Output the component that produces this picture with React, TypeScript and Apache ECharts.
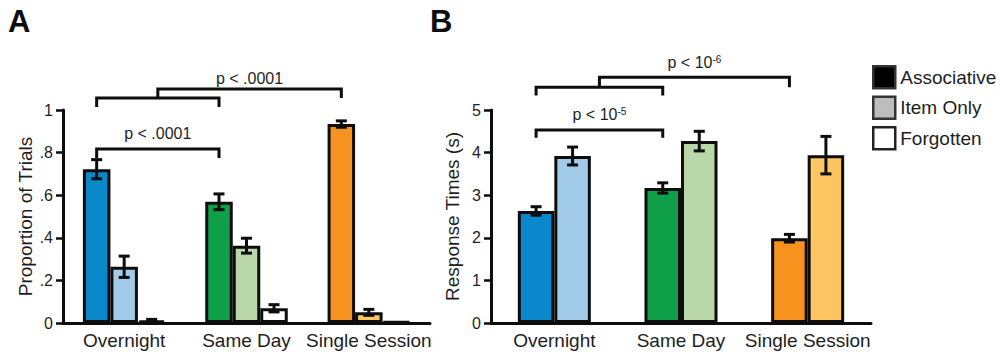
import React, { useEffect, useRef } from 'react';
import * as echarts from 'echarts';

const categories = ['Overnight', 'Same Day', 'Single Session'];
const legendNames = ['Associative', 'Item Only', 'Forgotten'];

// Panel A: proportion of trials (mean, SEM)
const propAssociative = [0.722, 0.569, 0.934];
const propAssociativeErr = [0.045, 0.037, 0.015];
const propItemOnly = [0.264, 0.363, 0.05];
const propItemOnlyErr = [0.05, 0.035, 0.014];
const propForgotten = [0.012, 0.069, 0.006];
const propForgottenErr = [0.005, 0.017, 0];
const propTickLabels = ['0', '.2', '.4', '.6', '.8', '1'];

// Panel B: response times in seconds (mean, SEM)
const rtAssociative = [2.63, 3.17, 1.99];
const rtAssociativeErr = [0.1, 0.12, 0.09];
const rtItemOnly = [3.92, 4.27, 3.94];
const rtItemOnlyErr = [0.21, 0.23, 0.44];
const rtTickLabels = ['0', '1', '2', '3', '4', '5'];

// Significance annotations: lower bracket [tip, bar, label], upper [tip, bar, top, label]
const sigLabelsA = [['p < .0001', ''], ['p < .0001', '']];
const sigLowA = [0.775, 0.817, 0.888];
const sigHighA = [1.014, 1.056, 1.099, 1.146];
const sigLabelsB = [['p < 10', '-5'], ['p < 10', '-6']];
const sigLowB = [4.35, 4.53, 4.9];
const sigHighB = [5.34, 5.535, 5.77, 6.11];

const assocColors = ['#0a88cc', '#0e9f48', '#f6921e'];
const itemColors = ['#a1cbe9', '#b9d7a8', '#fec563'];
const forgottenColor = '#ffffff';

const FONT = '"Liberation Sans", Arial, Helvetica, sans-serif';
const INK = '#0d0d0d';
const TXT = '#1e1e1e';
const BW_A = 27.5;
const BW_B = 36.5;
const STROKE = 3;

function errSeries(grid: number, barIdx: number, n: number, bw: number, means: number[], errs: number[]) {
  return {
    type: 'custom',
    xAxisIndex: grid,
    yAxisIndex: grid,
    z: 10,
    silent: true,
    clip: false,
    data: means.map((m, i) => [i, m, errs[i]]),
    encode: { x: 0, y: 1 },
    renderItem: (params: any, api: any) => {
      const c = api.value(0);
      const m = api.value(1);
      const e = api.value(2);
      if (!e) return null;
      const off = (barIdx - (n - 1) / 2) * bw;
      const top = api.coord([c, m + e]);
      const bot = api.coord([c, m - e]);
      const x = top[0] + off;
      const cap = 5.5;
      const st = { stroke: INK, lineWidth: STROKE, fill: 'none' };
      return {
        type: 'group',
        children: [
          { type: 'line', shape: { x1: x, y1: top[1], x2: x, y2: bot[1] }, style: st },
          { type: 'line', shape: { x1: x - cap, y1: top[1], x2: x + cap, y2: top[1] }, style: st },
          { type: 'line', shape: { x1: x - cap, y1: bot[1], x2: x + cap, y2: bot[1] }, style: st },
        ],
      };
    },
  };
}

function sigText(x: number, y: number, parts: string[]) {
  return {
    type: 'text',
    style: {
      x,
      y,
      text: parts[1] ? `${parts[0]}{sup|${parts[1]}}` : parts[0],
      fill: TXT,
      font: `16px ${FONT}`,
      textAlign: 'center',
      textVerticalAlign: 'middle',
      align: 'center',
      verticalAlign: 'middle',
      rich: { sup: { fontSize: 10, fontFamily: FONT, verticalAlign: 'top', fill: TXT } },
    },
  };
}

function sigSeries(grid: number, n: number, bw: number, labels: string[][], low: number[], high: number[]) {
  return {
    type: 'custom',
    xAxisIndex: grid,
    yAxisIndex: grid,
    z: 11,
    silent: true,
    clip: false,
    data: [[0, 0]],
    encode: { x: 0, y: 1 },
    renderItem: (params: any, api: any) => {
      const off = -((n - 1) / 2) * bw;
      const P = (c: number, v: number) => {
        const p = api.coord([c, v]);
        return [p[0] + off, p[1]];
      };
      const ls = { stroke: INK, lineWidth: STROKE, fill: 'none', lineJoin: 'miter', lineCap: 'butt' };
      const lowL = P(0, low[1]);
      const lowR = P(1, low[1]);
      const lowTip = P(0, low[0])[1];
      const hiL = P(0, high[1]);
      const hiR = P(1, high[1]);
      const hiTip = P(0, high[0])[1];
      const midX = (hiL[0] + hiR[0]) / 2;
      const topY = P(0, high[2])[1];
      const farX = P(2, high[2])[0];
      const lowMid = (lowL[0] + lowR[0]) / 2;
      return {
        type: 'group',
        children: [
          { type: 'polyline', shape: { points: [[lowL[0], lowTip], lowL, lowR, [lowR[0], lowTip]] }, style: ls },
          { type: 'polyline', shape: { points: [[hiL[0], hiTip], hiL, hiR, [hiR[0], hiTip]] }, style: ls },
          { type: 'polyline', shape: { points: [[midX, hiL[1]], [midX, topY], [farX, topY], [farX, hiL[1]]] }, style: ls },
          sigText(lowMid, P(0, low[2])[1], labels[0]),
          sigText((midX + farX) / 2, P(0, high[3])[1], labels[1]),
        ],
      };
    },
  };
}

function barSeries(grid: number, name: string, bw: number, values: number[], colors: string[]) {
  return {
    type: 'bar',
    name,
    xAxisIndex: grid,
    yAxisIndex: grid,
    barWidth: bw,
    barGap: '0%',
    data: values.map((v, i) => ({ value: v, itemStyle: { color: colors[i] } })),
    itemStyle: { borderColor: INK, borderWidth: STROKE },
  };
}

function xAxis(grid: number) {
  return {
    gridIndex: grid,
    type: 'category',
    data: categories,
    axisLine: { show: true, lineStyle: { color: INK, width: 3 } },
    axisTick: { show: false },
    axisLabel: { fontSize: 19, color: TXT, fontFamily: FONT, margin: 8, interval: 0 },
    splitLine: { show: false },
  };
}

function yAxis(grid: number, name: string, max: number, interval: number, labels: string[], nameGap: number) {
  return {
    gridIndex: grid,
    type: 'value',
    min: 0,
    max,
    interval,
    name,
    nameLocation: 'middle',
    nameGap,
    nameTextStyle: { fontSize: 19, color: TXT, fontFamily: FONT },
    axisLine: { show: true, lineStyle: { color: INK, width: 3 } },
    axisTick: { show: true, length: 7, lineStyle: { color: INK, width: 2.5 } },
    axisLabel: {
      fontSize: 16,
      color: TXT,
      fontFamily: FONT,
      margin: 10,
      formatter: (v: number) => labels[Math.round(v / interval)] ?? '',
    },
    splitLine: { show: false },
  };
}

export default function App() {
  const ref = useRef<HTMLDivElement>(null);
  useEffect(() => {
    if (!ref.current) return;
    const chart = echarts.init(ref.current, null, { renderer: 'svg' });
    const option: any = {
      animation: false,
      backgroundColor: '#ffffff',
      textStyle: { fontFamily: FONT },
      grid: [
        { left: 63, top: 110, width: 367, height: 213, containLabel: false },
        { left: 491, top: 110, width: 380, height: 213, containLabel: false },
      ],
      xAxis: [xAxis(0), xAxis(1)],
      yAxis: [
        yAxis(0, 'Proportion of Trials', 1, 0.2, propTickLabels, 28),
        yAxis(1, 'Response Times (s)', 5, 1, rtTickLabels, 29),
      ],
      legend: {
        orient: 'vertical',
        left: 872,
        top: 65,
        padding: 0,
        itemWidth: 22,
        itemHeight: 22,
        itemGap: 6,
        icon: 'rect',
        selectedMode: false,
        textStyle: { fontSize: 19, color: TXT, fontFamily: FONT },
        data: [
          { name: legendNames[0], itemStyle: { color: '#000000', borderColor: '#333333', borderWidth: 2.5 } },
          { name: legendNames[1], itemStyle: { color: '#bdbdbd', borderColor: '#333333', borderWidth: 2.5 } },
          { name: legendNames[2], itemStyle: { color: '#ffffff', borderColor: '#222222', borderWidth: 2.5 } },
        ],
      },
      graphic: [
        { type: 'text', style: { x: 8, y: 21, text: 'A', fill: INK, font: `bold 31px ${FONT}`, textVerticalAlign: 'middle', verticalAlign: 'middle' } },
        { type: 'text', style: { x: 430, y: 21, text: 'B', fill: INK, font: `bold 31px ${FONT}`, textVerticalAlign: 'middle', verticalAlign: 'middle' } },
      ],
      series: [
        barSeries(0, legendNames[0], BW_A, propAssociative, assocColors),
        barSeries(0, legendNames[1], BW_A, propItemOnly, itemColors),
        barSeries(0, legendNames[2], BW_A, propForgotten, categories.map(() => forgottenColor)),
        errSeries(0, 0, 3, BW_A, propAssociative, propAssociativeErr),
        errSeries(0, 1, 3, BW_A, propItemOnly, propItemOnlyErr),
        errSeries(0, 2, 3, BW_A, propForgotten, propForgottenErr),
        sigSeries(0, 3, BW_A, sigLabelsA, sigLowA, sigHighA),
        barSeries(1, legendNames[0], BW_B, rtAssociative, assocColors),
        barSeries(1, legendNames[1], BW_B, rtItemOnly, itemColors),
        errSeries(1, 0, 2, BW_B, rtAssociative, rtAssociativeErr),
        errSeries(1, 1, 2, BW_B, rtItemOnly, rtItemOnlyErr),
        sigSeries(1, 2, BW_B, sigLabelsB, sigLowB, sigHighB),
      ],
    };
    chart.setOption(option);
    return () => chart.dispose();
  }, []);
  return (
    <div
      ref={ref}
      style={{ position: 'fixed', left: 0, top: 0, width: 1003, height: 355, background: '#ffffff' }}
    />
  );
}
